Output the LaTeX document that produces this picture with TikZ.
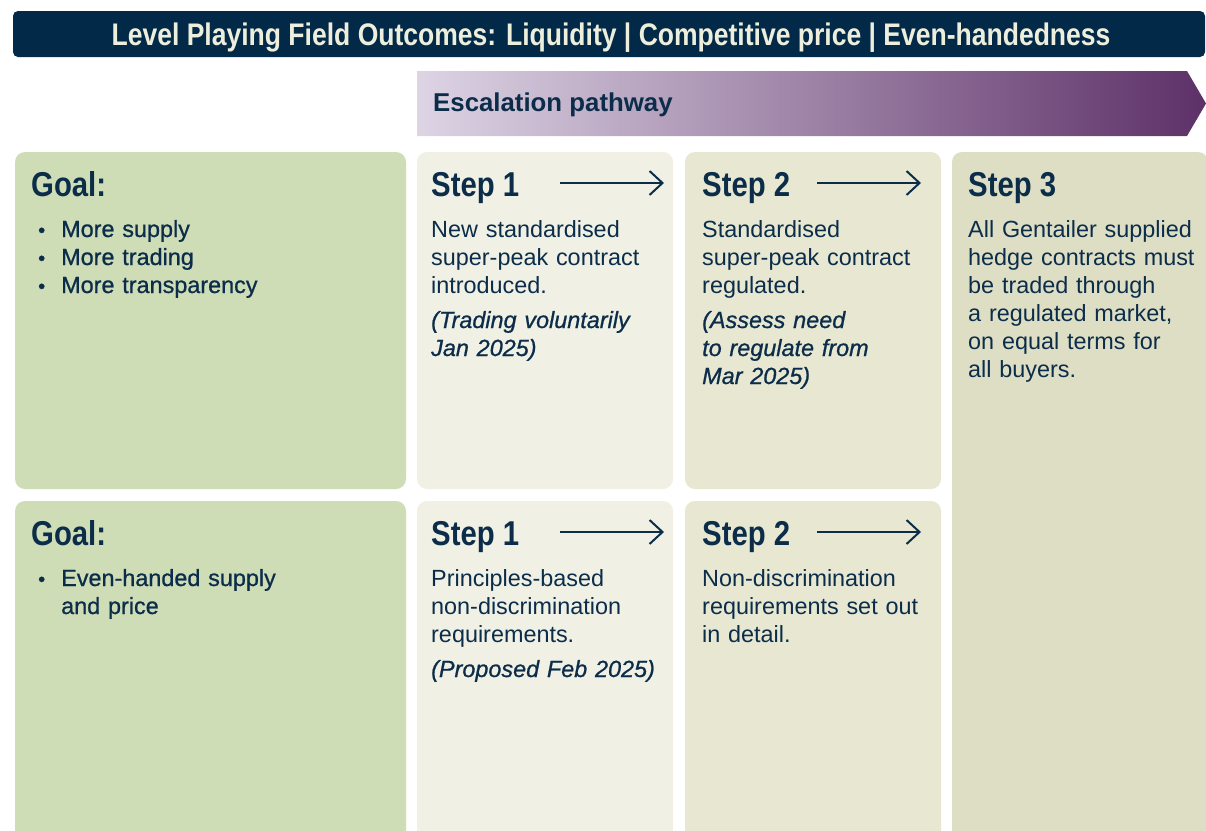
\documentclass[tikz,border=0pt]{standalone}
\usepackage{fontspec}
\setmainfont{Liberation Sans}
\newfontfamily\headfont[FakeStretch=0.85]{Liberation Sans}
\newfontfamily\medfont[FakeBold=0.8]{Liberation Sans}
\usetikzlibrary{arrows.meta}

\definecolor{navy}{HTML}{0B2D4A}
\definecolor{barnavy}{HTML}{022A48}
\definecolor{cream}{HTML}{EEEEDC}
\definecolor{goalgreen}{HTML}{CFDDB7}
\definecolor{stepone}{HTML}{F0F0E4}
\definecolor{steptwo}{HTML}{E7E7D2}
\definecolor{stepthree}{HTML}{DEDEC5}
\definecolor{lavender}{HTML}{DDD4E4}
\definecolor{plum}{HTML}{5D3168}

\begin{document}
\begin{tikzpicture}[x=1pt,y=-1pt,
  panel/.style={rounded corners=10pt},
  bigtitle/.style={font=\headfont\bfseries\fontsize{31.2}{32}\selectfont, text=cream, anchor=base, inner sep=0},
  heading/.style={font=\headfont\bfseries\fontsize{34.5}{36}\selectfont, text=navy, anchor=base west, inner sep=0},
  bodytext/.style={font=\fontsize{23.4}{28}\selectfont, text=navy, anchor=base west, inner sep=0, align=left, text width=250pt},
  goaltext/.style={font=\medfont\fontsize{23.4}{28}\selectfont, text=navy, anchor=base west, inner sep=0, align=left, text width=330pt},
  notetext/.style={font=\medfont\itshape\fontsize{23.4}{28}\selectfont, text=navy, anchor=base west, inner sep=0, align=left, text width=250pt},
  bulletmark/.style={font=\medfont\fontsize{20}{28}\selectfont, text=navy, anchor=base west, inner sep=0},
  nextstep/.style={draw=navy, line width=2pt, -{Straight Barb[length=13pt,width=24pt]}}
]
\useasboundingbox (0,0) rectangle (1206,830);
\clip (0,0) rectangle (1206,830);
\fill[white] (0,0) rectangle (1206,830);

% title bar
\fill[barnavy, rounded corners=5pt] (13,11) rectangle (1205,57);
\node[bigtitle] (title) at (611,45.5) {Level Playing Field Outcomes: Liquidity | Competitive price | Even-handedness};

% escalation band
\shade[left color=lavender, right color=plum]
  (417,71) -- (1187,71) -- (1206,103.5) -- (1187,136) -- (417,136) -- cycle;
\node[font=\bfseries\fontsize{25.8}{28}\selectfont, text=navy, anchor=base west, inner sep=0] (path) at (433,111) {Escalation pathway};

% panels, top row
\fill[goalgreen, panel] (15,152) rectangle (406,489);
\fill[stepone, panel] (417,152) rectangle (673,489);
\fill[steptwo, panel] (685,152) rectangle (941,489);
% step 3 spans both rows
\fill[stepthree, panel] (952,152) rectangle (1208,860);
% panels, bottom row
\fill[goalgreen, panel] (15,501) rectangle (406,860);
\fill[stepone, panel] (417,501) rectangle (673,860);
\fill[steptwo, panel] (685,501) rectangle (941,860);

% top row: goal
\node[heading] (goalA) at (31,196) {Goal:};
\node[bulletmark] (bA1) at (38,237) {•};
\node[bulletmark] (bA2) at (38,265) {•};
\node[bulletmark] (bA3) at (38,293) {•};
\node[goaltext] (gA1) at (61,237) {More supply};
\node[goaltext] (gA2) at (61,265) {More trading};
\node[goaltext] (gA3) at (61,293) {More transparency};

% top row: step 1
\node[heading] (s1A) at (431,196) {Step 1};
\coordinate (s1Afrom) at (560,183);
\coordinate (s1Ato) at (664,183);
\draw[nextstep] (s1Afrom) -- (s1Ato);
\node[bodytext] (t1A) at (431,237) {New standardised\\super-peak contract\\introduced.};
\node[notetext] (n1A) at (431,328) {(Trading voluntarily\\Jan 2025)};

% top row: step 2
\node[heading] (s2A) at (702,196) {Step 2};
\coordinate (s2Afrom) at (817,183);
\coordinate (s2Ato) at (921,183);
\draw[nextstep] (s2Afrom) -- (s2Ato);
\node[bodytext] (t2A) at (702,237) {Standardised\\super-peak contract\\regulated.};
\node[notetext] (n2A) at (702,328) {(Assess need\\to regulate from\\Mar 2025)};

% step 3
\node[heading] (s3) at (968,196) {Step 3};
\node[bodytext] (t3) at (968,237) {All Gentailer supplied\\hedge contracts must\\be traded through\\a regulated market,\\on equal terms for\\all buyers.};

% bottom row: goal
\node[heading] (goalB) at (31,545) {Goal:};
\node[bulletmark] (bB1) at (38,586) {•};
\node[goaltext] (gB1) at (61,586) {Even-handed supply\\and price};

% bottom row: step 1
\node[heading] (s1B) at (431,545) {Step 1};
\coordinate (s1Bfrom) at (560,532);
\coordinate (s1Bto) at (664,532);
\draw[nextstep] (s1Bfrom) -- (s1Bto);
\node[bodytext] (t1B) at (431,586) {Principles-based\\non-discrimination\\requirements.};
\node[notetext] (n1B) at (431,677) {(Proposed Feb 2025)};

% bottom row: step 2
\node[heading] (s2B) at (702,545) {Step 2};
\coordinate (s2Bfrom) at (817,532);
\coordinate (s2Bto) at (921,532);
\draw[nextstep] (s2Bfrom) -- (s2Bto);
\node[bodytext] (t2B) at (702,586) {Non-discrimination\\requirements set out\\in detail.};
\end{tikzpicture}
\end{document}
